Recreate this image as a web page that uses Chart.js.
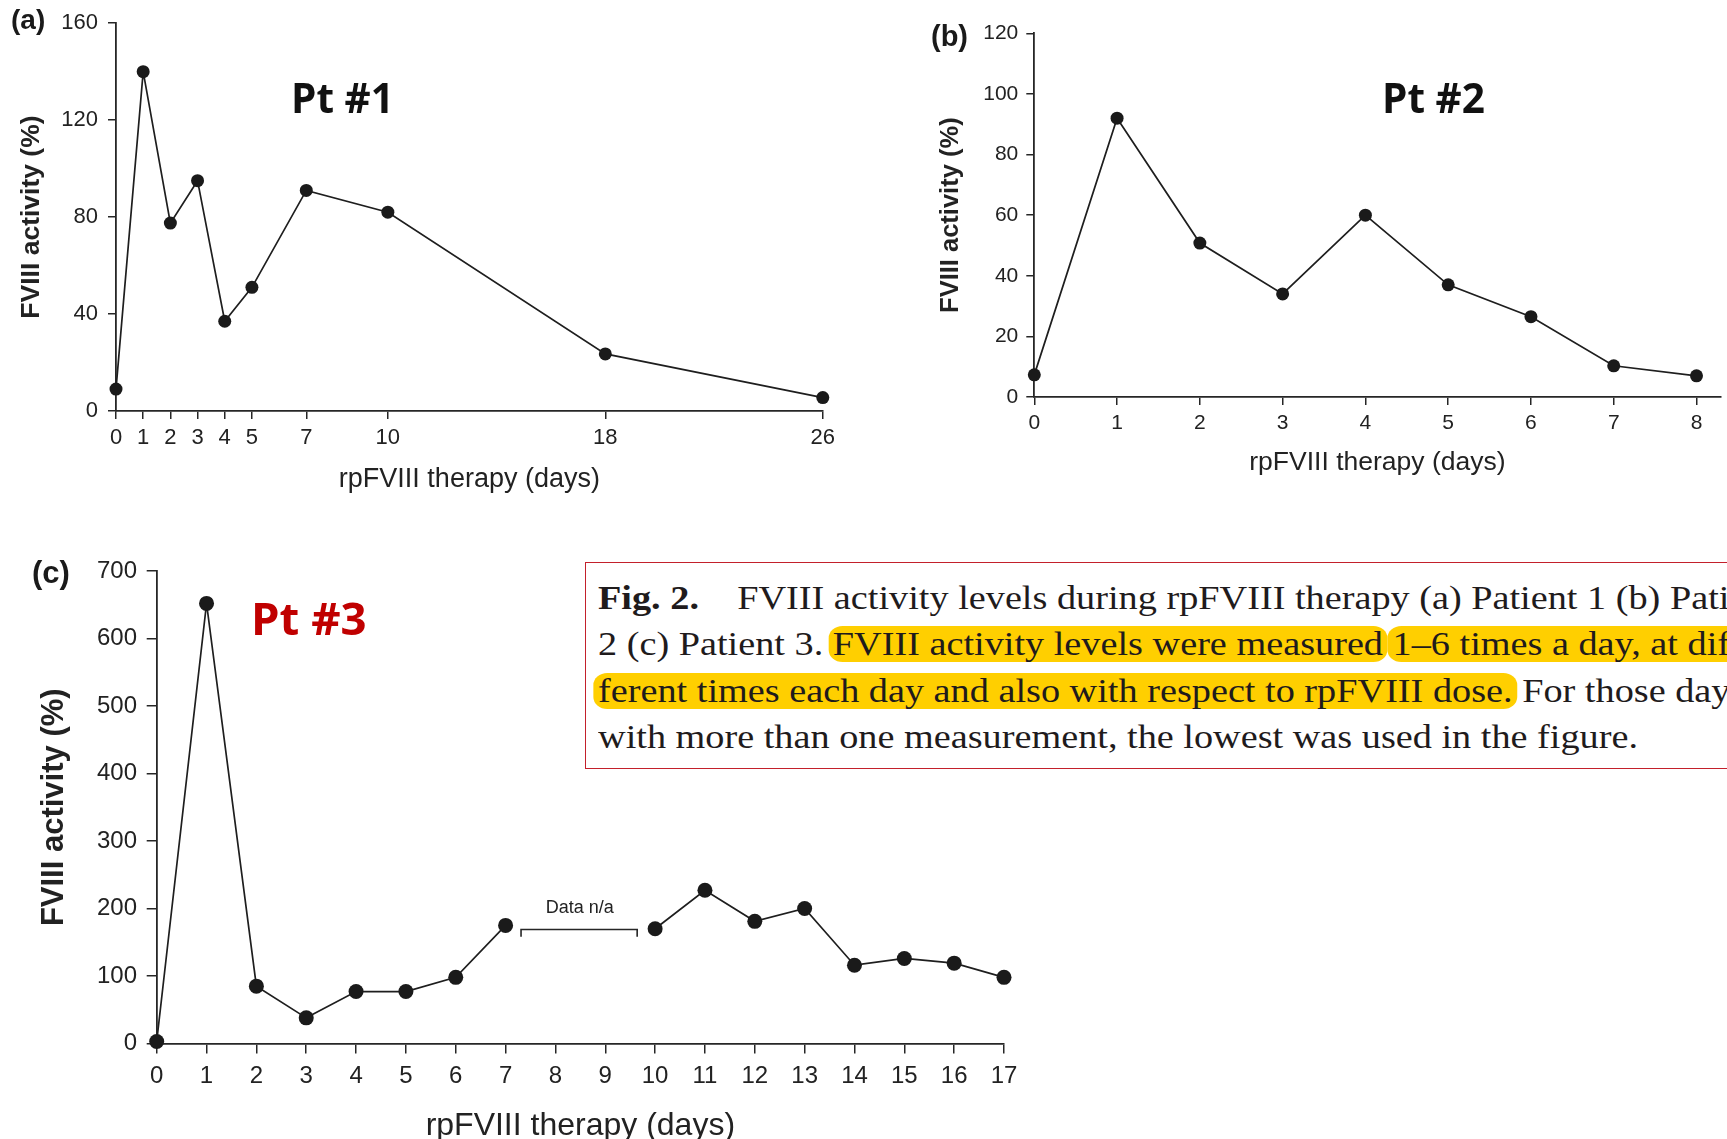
<!DOCTYPE html>
<html><head><meta charset="utf-8">
<script src="https://cdn.jsdelivr.net/npm/chart.js@4.4.1/dist/chart.umd.min.js"></script>
<style>
html,body{margin:0;padding:0;background:#fff;}
body{width:1727px;height:1139px;overflow:hidden;position:relative;}
canvas.full{position:absolute;left:0;top:0;width:1727px;height:1160px;}
.lbl{position:absolute;white-space:nowrap;line-height:1;}
.panel{font-family:'Liberation Sans',Arial,sans-serif;font-weight:bold;color:#1a1a1a;}
.pt{font-family:'Open Sans',sans-serif;font-weight:700;color:#111;}
#capbox{position:absolute;left:585px;top:562px;width:1400px;height:205px;border:1.5px solid #c3202b;}
.cap{position:absolute;left:598px;font-family:'Liberation Serif','Times New Roman',serif;font-size:33px;color:#1f1b1c;white-space:nowrap;line-height:1;transform-origin:0 0;}
.hl{background:#ffcf00;border-radius:12px;padding:0 4px;margin:0 -4px;}
</style></head>
<body>
<div id="capbox"></div>
<div class="cap" style="top:581.7px"><b>Fig. 2.</b>&emsp;FVIII activity levels during rpFVIII therapy (a) Patient 1 (b) Patient</div>
<div class="cap" style="top:628.2px">2 (c) Patient 3. <span class="hl">FVIII activity levels were measured</span> <span class="hl">1–6 times a day, at dif-</span></div>
<div class="cap" style="top:674.7px"><span class="hl">ferent times each day and also with respect to rpFVIII dose.</span> For those days</div>
<div class="cap" id="capLast" style="top:721.2px">with more than one measurement, the lowest was used in the figure.</div>

<canvas id="cA" class="full" width="1727" height="1160"></canvas>
<canvas id="cB" class="full" width="1727" height="1160"></canvas>
<canvas id="cC" class="full" width="1727" height="1160"></canvas>

<div class="lbl panel" style="left:11px;top:6px;font-size:28px">(a)</div>
<div class="lbl panel" style="left:931px;top:22px;font-size:29px">(b)</div>
<div class="lbl panel" style="left:32px;top:557px;font-size:31px">(c)</div>
<div class="lbl pt" style="left:291px;top:78px;font-size:40.5px">Pt #1</div>
<div class="lbl pt" style="left:1382px;top:78px;font-size:40.5px">Pt #2</div>
<div class="lbl pt" style="left:251px;top:595px;font-size:45.5px;color:#c00000">Pt #3</div>

<script>
// ---------- data ----------
const daysA = [0, 1, 2, 3, 4, 5, 7, 10, 18, 26];
const fviiiA = [9, 140, 77.5, 95, 37, 51, 91, 82, 23.5, 5.5];
const xTicksA = [0, 1, 2, 3, 4, 5, 7, 10, 18, 26];
const yTicksA = [0, 40, 80, 120, 160];

const daysB = [0, 1, 2, 3, 4, 5, 6, 7, 8];
const fviiiB = [7.3, 92, 50.8, 34, 60, 37, 26.5, 10.3, 7];
const xTicksB = [0, 1, 2, 3, 4, 5, 6, 7, 8];
const yTicksB = [0, 20, 40, 60, 80, 100, 120];

const daysC = [0, 1, 2, 3, 4, 5, 6, 7, 8, 9, 10, 11, 12, 13, 14, 15, 16, 17];
const fviiiC = [3, 652, 85, 38, 77, 77, 98, 175, null, null, 170, 227, 181, 200, 116, 126, 119, 98];
const xTicksC = [0, 1, 2, 3, 4, 5, 6, 7, 8, 9, 10, 11, 12, 13, 14, 15, 16, 17];
const yTicksC = [0, 100, 200, 300, 400, 500, 600, 700];

const gapLabelC = 'Data n/a';
const gapBracketDaysC = [7.31, 9.64];
const gapBracketLevelsC = [169, 158];
const gapLabelAtC = [8.49, 200];

const xTitle = 'rpFVIII therapy (days)';
const yTitle = 'FVIII activity (%)';

// ---------- charts ----------
Chart.defaults.font.family = "'Liberation Sans', Arial, Helvetica, sans-serif";
Chart.defaults.color = '#222';
const CW = 1727, CH = 1160;
const INK = '#262626';

const gapPlugin = {
  id: 'gapNote',
  afterDatasetsDraw(chart) {
    const {ctx, scales: {x, y}} = chart;
    const x1 = x.getPixelForValue(gapBracketDaysC[0]);
    const x2 = x.getPixelForValue(gapBracketDaysC[1]);
    const yl = y.getPixelForValue(gapBracketLevelsC[0]);
    const yd = y.getPixelForValue(gapBracketLevelsC[1]);
    ctx.save();
    ctx.strokeStyle = INK; ctx.lineWidth = 1.6;
    ctx.beginPath();
    ctx.moveTo(x1, yd); ctx.lineTo(x1, yl); ctx.lineTo(x2, yl); ctx.lineTo(x2, yd);
    ctx.stroke();
    ctx.font = "18px 'Liberation Sans', Arial, sans-serif";
    ctx.fillStyle = '#222'; ctx.textAlign = 'center'; ctx.textBaseline = 'middle';
    ctx.fillText(gapLabelC, x.getPixelForValue(gapLabelAtC[0]), y.getPixelForValue(gapLabelAtC[1]));
    ctx.restore();
  }
};

function build(id, o) {
  const padBottom = CH - o.bottom - o.xAxisH;
  new Chart(document.getElementById(id), {
    type: 'line',
    data: { datasets: [{
      data: o.days.map((d, i) => ({x: d, y: o.vals[i]})),
      borderColor: '#1e1e1e', borderWidth: 1.7,
      pointRadius: o.r, pointBackgroundColor: '#1a1a1a', pointBorderColor: '#1a1a1a', pointBorderWidth: 0,
      tension: 0, spanGaps: false, clip: false
    }]},
    options: {
      responsive: false, animation: false, events: [], devicePixelRatio: 1,
      layout: { padding: { left: o.padLeft, top: o.top, right: CW - o.right, bottom: padBottom } },
      plugins: { legend: {display: false}, tooltip: {enabled: false} },
      scales: {
        x: {
          type: 'linear', min: o.xMin, max: o.xMax,
          afterBuildTicks: s => { s.ticks = o.xTicks.map(v => ({value: v})); },
          afterFit: s => { s.height = o.xAxisH; },
          grid: { display: true, drawOnChartArea: false, drawTicks: true, tickLength: o.tickLen, color: INK, lineWidth: 1.5 },
          border: { display: true, color: INK, width: 1.8 },
          ticks: { font: {size: o.tickFont}, color: '#222', padding: o.xTickPad, maxRotation: 0, autoSkip: false },
          title: { display: true, text: xTitle, font: {size: o.xTitleFont}, color: '#222', padding: {top: 0, bottom: 0} }
        },
        y: {
          type: 'linear', min: o.yMin, max: o.yMax,
          afterBuildTicks: s => { s.ticks = o.yTicks.map(v => ({value: v})); },
          afterFit: s => { s.width = o.yAxisW; },
          grid: { display: true, drawOnChartArea: false, drawTicks: true, tickLength: o.tickLen, color: INK, lineWidth: 1.5 },
          border: { display: true, color: INK, width: 1.8 },
          ticks: { font: {size: o.tickFont}, color: '#222', padding: o.yTickPad },
          title: { display: true, text: yTitle, font: {size: o.yTitleFont, weight: 'bold'}, color: '#222', padding: {top: o.yTitlePad, bottom: 0} }
        }
      }
    },
    plugins: o.plugins || []
  });
}

build('cA', {
  days: daysA, vals: fviiiA, xTicks: xTicksA, yTicks: yTicksA,
  xMin: 0, xMax: 26, yMin: 0, yMax: 160,
  padLeft: 0, yAxisW: 116, top: 15.7, right: 822.8, bottom: 410.9, xAxisH: 85.3,
  r: 6.5, tickLen: 8, tickFont: 22, xTickPad: 6, yTickPad: 10,
  xTitleFont: 27, yTitleFont: 26.5, yTitlePad: 15.8
});
build('cB', {
  days: daysB, vals: fviiiB, xTicks: xTicksB, yTicks: yTicksB,
  xMin: 0, xMax: 8.29, yMin: 0, yMax: 120,
  padLeft: 930, yAxisW: 104.3, top: 33.3, right: 1727, bottom: 397, xAxisH: 81.9,
  r: 6.5, tickLen: 8, tickFont: 21, xTickPad: 5.7, yTickPad: 8,
  xTitleFont: 26.5, yTitleFont: 25.5, yTitlePad: 5.7
});
build('cC', {
  days: daysC, vals: fviiiC, xTicks: xTicksC, yTicks: yTicksC,
  xMin: 0, xMax: 17, yMin: 0, yMax: 700,
  padLeft: 0, yAxisW: 156.7, top: 571, right: 1004, bottom: 1043.5, xAxisH: 101.7,
  r: 7.5, tickLen: 10, tickFont: 24, xTickPad: 8.8, yTickPad: 9.7,
  xTitleFont: 32, yTitleFont: 31, yTitlePad: 35.4,
  plugins: [gapPlugin]
});

// ---------- caption width fit ----------
(function () {
  const last = document.getElementById('capLast');
  const w = last.getBoundingClientRect().width;
  const k = 1040 / w;
  document.querySelectorAll('.cap').forEach(el => { el.style.transform = 'scaleX(' + k + ')'; });
})();
</script>
</body></html>
